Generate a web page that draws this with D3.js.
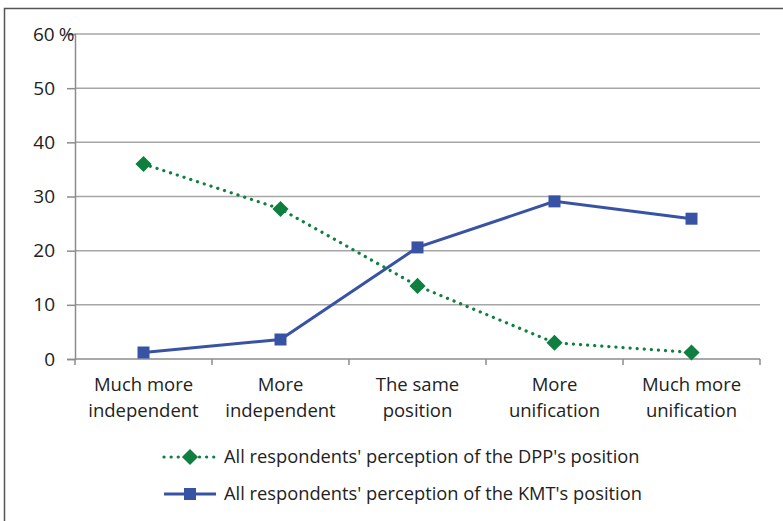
<!DOCTYPE html>
<html><head><meta charset="utf-8">
<script src="https://cdn.jsdelivr.net/npm/d3@7"></script>
<style>body{margin:0;background:#fff}svg{display:block}text{font-family:"Open Sans","Noto Sans",sans-serif;fill:#222}</style>
</head><body><svg id="c" width="783" height="521"></svg>
<script>
const categories = [["Much more","independent"],["More","independent"],["The same","position"],["More","unification"],["Much more","unification"]];
const dppValues = [36.0, 27.7, 13.5, 3.0, 1.2];
const kmtValues = [1.2, 3.6, 20.6, 29.1, 25.9];
const yTicks = [0,10,20,30,40,50,60];
const seriesNames = ["All respondents' perception of the DPP's position","All respondents' perception of the KMT's position"];

const svg = d3.select("#c");
const m = {l:75, r:760, t:34, b:359};
const x = d3.scaleBand().domain(d3.range(categories.length)).range([m.l, m.r]);
const y = d3.scaleLinear().domain([0,60]).range([m.b, m.t]);
const cx = i => x(i) + x.bandwidth()/2;

// outer frame
svg.append("path").attr("d","M4.5,521 V8.5 H783").attr("fill","none").attr("stroke","#555").attr("stroke-width",1.5);

// gridlines
svg.append("g").selectAll("line").data(yTicks.filter(d=>d>0)).join("line")
  .attr("x1",m.l).attr("x2",m.r).attr("y1",d=>y(d)).attr("y2",d=>y(d))
  .attr("stroke","#a6a6a6").attr("stroke-width",1.5);

// y axis
const yAxis = svg.append("g").attr("transform",`translate(${m.l},0)`)
  .call(d3.axisLeft(y).tickValues(yTicks).tickSize(8).tickPadding(12).tickFormat(d=>d));
yAxis.select(".domain").attr("stroke","#8c8c8c").attr("stroke-width",1.5);
yAxis.selectAll(".tick line").attr("stroke","#8c8c8c").attr("stroke-width",1.5);
yAxis.selectAll(".tick text").attr("font-size",19).attr("fill","#222").style("font-family",'"Open Sans",sans-serif');
const t60 = yAxis.selectAll(".tick").filter(d=>d===60).select("text");
t60.text("60").attr("text-anchor","start").attr("x",-42)
  .append("tspan").attr("dx",4).text("%");

// x axis
const xAxis = svg.append("g").attr("transform",`translate(0,${m.b})`);
xAxis.append("line").attr("x1",m.l).attr("x2",m.r).attr("stroke","#8c8c8c").attr("stroke-width",1.5);
const bounds = d3.range(categories.length+1).map(i => i<categories.length ? x(i) : m.r);
xAxis.selectAll("line.t").data(bounds).join("line").attr("class","t")
  .attr("x1",d=>d).attr("x2",d=>d).attr("y1",0).attr("y2",6).attr("stroke","#8c8c8c").attr("stroke-width",1.5);
const lab = xAxis.selectAll("text.c").data(categories).join("text").attr("class","c")
  .attr("text-anchor","middle").attr("font-size",18.5);
lab.each(function(d,i){
  const t = d3.select(this);
  d.forEach((s,k)=>t.append("tspan").attr("x",cx(i)).attr("y",32+k*26).text(s));
});

// lines
const line = d3.line().x((d,i)=>cx(i)).y(d=>y(d));
svg.append("path").datum(kmtValues).attr("d",line).attr("fill","none")
  .attr("stroke","#3953a4").attr("stroke-width",3);
svg.append("path").datum(dppValues).attr("d",line).attr("fill","none")
  .attr("stroke","#0e7f3e").attr("stroke-width",3.2).attr("stroke-linecap","round").attr("stroke-dasharray","0.1 7");

// markers
svg.append("g").selectAll("rect").data(kmtValues).join("rect")
  .attr("x",(d,i)=>cx(i)-6).attr("y",d=>y(d)-6).attr("width",12).attr("height",12).attr("fill","#3953a4");
const diamond = d3.symbol().type(d3.symbolSquare).size(130);
svg.append("g").selectAll("path").data(dppValues).join("path")
  .attr("d",diamond).attr("transform",(d,i)=>`translate(${cx(i)},${y(d)}) rotate(45)`).attr("fill","#0e7f3e");

// legend
const lg = svg.append("g");
const rows = [{y:457, c:"#0e7f3e", dpp:true},{y:494, c:"#3953a4", dpp:false}];
rows.forEach((r,k)=>{
  const ln = lg.append("line").attr("x1",164).attr("x2",216).attr("y1",r.y).attr("y2",r.y).attr("stroke",r.c);
  if(r.dpp){ ln.attr("stroke-width",3.2).attr("stroke-linecap","round").attr("stroke-dasharray","0.1 7"); 
    lg.append("path").attr("d",diamond).attr("transform",`translate(190,${r.y}) rotate(45)`).attr("fill",r.c);
  } else { ln.attr("stroke-width",3);
    lg.append("rect").attr("x",184).attr("y",r.y-6).attr("width",12).attr("height",12).attr("fill",r.c);
  }
  lg.append("text").attr("x",224).attr("y",r.y+6).attr("font-size",18.3).text(seriesNames[k]);
});
</script></body></html>
